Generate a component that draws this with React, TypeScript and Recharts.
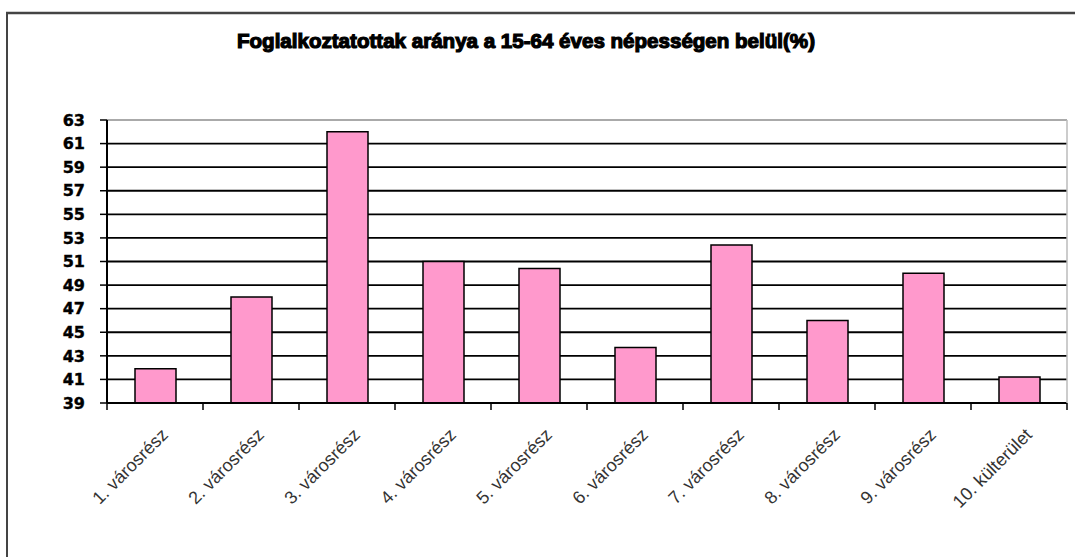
import React from "react"
import { BarChart, Bar, XAxis, YAxis, CartesianGrid, ReferenceLine } from "recharts"

const districts = [
    "1. városrész",
    "2. városrész",
    "3. városrész",
    "4. városrész",
    "5. városrész",
    "6. városrész",
    "7. városrész",
    "8. városrész",
    "9. városrész",
    "10. külterület",
]

const employmentRate = [41.9, 48, 62, 51, 50.4, 43.7, 52.4, 46, 50, 41.2]

const yTicks = [39, 41, 43, 45, 47, 49, 51, 53, 55, 57, 59, 61, 63]

const title = "Foglalkoztatottak aránya a 15-64 éves népességen belül(%)"

const data = districts.map((name, i) => ({ name, value: employmentRate[i] }))

const W = 1075
const H = 557
const PLOT_LEFT = 107
const PLOT_RIGHT = 1067
const PLOT_TOP = 120
const PLOT_BOTTOM = 403
const BAND = (PLOT_RIGHT - PLOT_LEFT) / districts.length

function CategoryTick(props: any) {
    const { x, y, payload, index } = props
    const left = x - BAND / 2
    const right = x + BAND / 2
    const tx = x + 14
    const ty = y + 33
    return (
        <g>
            <line x1={left} y1={y} x2={left} y2={y + 7} stroke="#000" strokeWidth={1.5} />
            {index === districts.length - 1 && (
                <>
                    <line x1={right} y1={y} x2={right} y2={y + 7} stroke="#000" strokeWidth={1.5} />
                    <line x1={right} y1={PLOT_TOP} x2={right} y2={y} stroke="#bbb" strokeWidth={1.5} />
                </>
            )}
            <text
                x={tx}
                y={ty}
                transform={`rotate(-45, ${tx}, ${ty})`}
                textAnchor="end"
                fontFamily="'Liberation Sans', Arial, sans-serif"
                fontSize={18}
                fill="#333"
            >
                {payload.value}
            </text>
        </g>
    )
}

export default function App() {
    return (
        <div style={{ position: "absolute", left: 0, top: 0, width: W, height: H, background: "#fff" }}>
            <BarChart
                width={W}
                height={H}
                data={data}
                margin={{ top: PLOT_TOP, right: W - PLOT_RIGHT, left: 0, bottom: 0 }}
                barCategoryGap={0}
            >
                <CartesianGrid horizontal vertical={false} stroke="#000" strokeWidth={1.8} strokeOpacity={1} />
                <ReferenceLine y={63} stroke="#aaa" strokeWidth={1.8} />
                <XAxis
                    dataKey="name"
                    height={H - PLOT_BOTTOM}
                    tickSize={0}
                    tickMargin={0}
                    tickLine={false}
                    axisLine={{ stroke: "#000", strokeWidth: 2 }}
                    interval={0}
                    tick={<CategoryTick />}
                />
                <YAxis
                    domain={[39, 63]}
                    ticks={yTicks}
                    interval={0}
                    width={PLOT_LEFT}
                    tickSize={7}
                    tickMargin={15}
                    axisLine={{ stroke: "#000", strokeWidth: 2 }}
                    tickLine={{ stroke: "#000", strokeWidth: 1.5 }}
                    tick={{ fill: "#000", fontSize: 16, fontWeight: "bold", fontFamily: "'DejaVu Sans', sans-serif", stroke: "#000", strokeWidth: 0.4 }}
                />
                <Bar dataKey="value" barSize={41} fill="#FF99CC" stroke="#000" strokeWidth={1.5} isAnimationActive={false} />
            </BarChart>
            <svg width={W} height={H} style={{ position: "absolute", left: 0, top: 0, pointerEvents: "none" }}>
                <line x1={6} y1={13} x2={W} y2={13} stroke="#444" strokeWidth={2.5} />
                <line x1={7} y1={13} x2={7} y2={H} stroke="#444" strokeWidth={2} />
                <text
                    x={526}
                    y={48}
                    textAnchor="middle"
                    textLength={578}
                    lengthAdjust="spacingAndGlyphs"
                    fontFamily="'Liberation Sans', Arial, sans-serif"
                    fontWeight="bold"
                    fontSize={20}
                    fill="#000"
                    stroke="#000"
                    strokeWidth={1.2}
                >
                    {title}
                </text>
            </svg>
        </div>
    )
}
